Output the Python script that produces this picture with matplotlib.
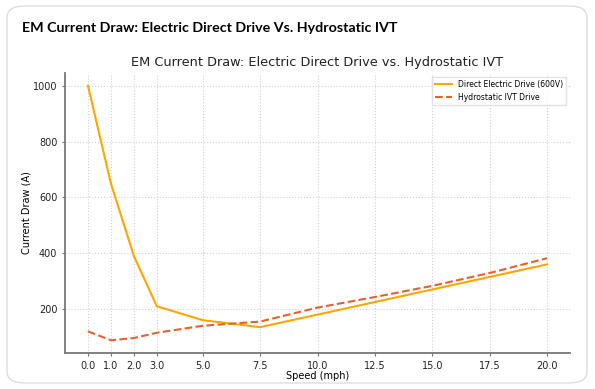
import numpy as np
import matplotlib.pyplot as plt
from matplotlib.patches import FancyBboxPatch

speed = [0, 1, 2, 3, 5, 7.5, 10, 12.5, 15, 17.5, 20]
direct = [1000, 650, 390, 210, 160, 135, 180, 225, 270, 315, 360]
hydro = [120, 88, 96, 115, 140, 155, 205, 243, 283, 329, 382]
tick_labels = ["0.0", "1.0", "2.0", "3.0", "5.0", "7.5", "10.0", "12.5", "15.0", "17.5", "20.0"]

fig = plt.figure(figsize=(5.95, 3.89), dpi=100)
fig.patch.set_facecolor('white')

# card frame
card = FancyBboxPatch((7/595, 6/389), 580/595, 377/389,
                      boxstyle="round,pad=0,rounding_size=0.03",
                      transform=fig.transFigure, facecolor='white',
                      edgecolor='#dddddd', linewidth=1.0, zorder=-5)
fig.patches.append(card)
fig.text(22/595, 1 - 28/389, "EM Current Draw: Electric Direct Drive Vs. Hydrostatic IVT",
         fontsize=10.3, fontweight='bold', family='Lato', va='center', ha='left')

ax = fig.add_axes([65/595, 1 - 353/389, 505/595, 280/389])
ax.patch.set_alpha(0)
ax.plot(speed, direct, color='#FFA500', linewidth=1.5, label='Direct Electric Drive (600V)')
ax.plot(speed, hydro, color='#E8602C', linewidth=1.5, linestyle='--', label='Hydrostatic IVT Drive')

ax.set_xticks(speed)
ax.set_xticklabels(tick_labels)
ax.set_yticks([200, 400, 600, 800, 1000])
ax.grid(True, linestyle=':', color='#d0d0d0', linewidth=0.8)
for s in ['top', 'right']:
    ax.spines[s].set_visible(False)
for s in ['left', 'bottom']:
    ax.spines[s].set_color('#777777')
    ax.spines[s].set_linewidth(1.3)
ax.tick_params(labelsize=7, colors='#222222', length=2, width=0.8)
ax.tick_params(axis='both', color='#777777')
ax.set_title("EM Current Draw: Electric Direct Drive vs. Hydrostatic IVT", fontsize=9.3, color='#222222', pad=5)
ax.set_xlabel("Speed (mph)", fontsize=7, labelpad=0)
ax.set_ylabel("Current Draw (A)", fontsize=7, labelpad=1)
ax.legend(loc='upper right', fontsize=5.5, frameon=True, edgecolor='#dddddd', fancybox=False,
          handlelength=2.2)

fig.savefig('out.png', dpi=100, facecolor='white')
